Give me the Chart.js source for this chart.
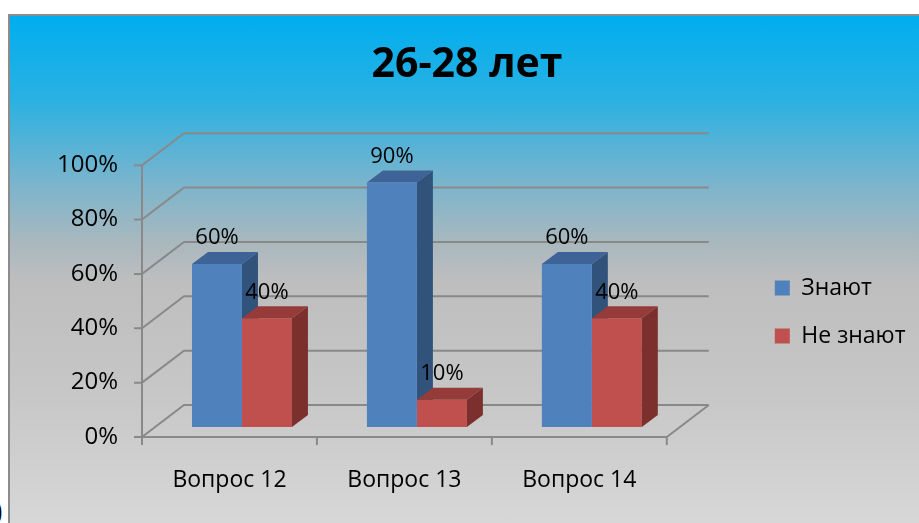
<!DOCTYPE html>
<html>
<head>
<meta charset="utf-8">
<script src="https://cdn.jsdelivr.net/npm/chart.js@4.4.1/dist/chart.umd.min.js"></script>
<style>
  body { margin: 0; background: #fff; }
  #wrap { position: relative; width: 919px; height: 523px; overflow: hidden; }
  #frame {
    position: absolute; left: 8px; top: 14px; width: 1000px; height: 530px;
    border-left: 2px solid #8c8c8c; border-top: 2px solid #8c8c8c;
    background: linear-gradient(to bottom, #00aeef 0%, #2bb1e2 16%, #78b4cd 31%, #aab8be 43%, #bebebe 50%, #c6c6c6 70%, #dadada 100%);
  }
  #paren { position: absolute; left: -8px; top: 494px; font: 30px "DejaVu Serif"; color: #000; }
  canvas { position: absolute; left: 0; top: 0; }
</style>
</head>
<body>
<div id="wrap">
  <div id="frame"></div>
  <span id="paren">)</span>
  <canvas id="chart" width="919" height="523"></canvas>
</div>
<script>
const chartTitle = '26-28 лет';
const categories = ['Вопрос 12', 'Вопрос 13', 'Вопрос 14'];
const seriesNames = ['Знают', 'Не знают'];
const knowValues = [60, 90, 60];
const dontKnowValues = [40, 10, 40];
const yTicks = [0, 20, 40, 60, 80, 100];

const FONT = '"Open Sans", sans-serif';
const DEPTH = {x: 42, y: -32};        // back wall offset
const BAR_SHIFT = {x: 12.5, y: -10};  // bars stand a bit behind the front plane
const BAR_DEPTH = {x: 16, y: -12};
const shades = [
  {front: '#4f81bd', top: '#3e6497', side: '#31527b'},
  {front: '#c0504d', top: '#953c3a', side: '#7b302e'}
];

function drawFaces(chart, i) {
  const ctx = chart.ctx;
  chart.getDatasetMeta(i).data.forEach(bar => {
    const {x, y, base, width} = bar.getProps(['x', 'y', 'base', 'width'], true);
    const l = x - width / 2, r = x + width / 2;
    ctx.fillStyle = shades[i].top;
    ctx.beginPath();
    ctx.moveTo(l, y); ctx.lineTo(r, y);
    ctx.lineTo(r + BAR_DEPTH.x, y + BAR_DEPTH.y); ctx.lineTo(l + BAR_DEPTH.x, y + BAR_DEPTH.y);
    ctx.closePath(); ctx.fill();
    ctx.fillStyle = shades[i].side;
    ctx.beginPath();
    ctx.moveTo(r, y); ctx.lineTo(r + BAR_DEPTH.x, y + BAR_DEPTH.y);
    ctx.lineTo(r + BAR_DEPTH.x, base + BAR_DEPTH.y); ctx.lineTo(r, base);
    ctx.closePath(); ctx.fill();
  });
}

const box3d = {
  id: 'box3d',
  beforeDatasetsDraw(chart) {
    const {ctx, chartArea: a, scales: {y}} = chart;
    ctx.save();
    ctx.strokeStyle = '#898989';
    ctx.lineWidth = 2;
    ctx.beginPath();
    yTicks.forEach(v => {
      const py = y.getPixelForValue(v);
      ctx.moveTo(a.left - 8, py);
      ctx.lineTo(a.left, py);
      ctx.lineTo(a.left + DEPTH.x, py + DEPTH.y);
      ctx.lineTo(a.right + DEPTH.x, py + DEPTH.y);
    });
    ctx.moveTo(a.left, a.top);
    ctx.lineTo(a.left, a.bottom);
    ctx.lineTo(a.right, a.bottom);
    ctx.lineTo(a.right + DEPTH.x, a.bottom + DEPTH.y);
    for (let k = 0; k <= categories.length; k++) {
      const px = a.left + (a.right - a.left) * k / categories.length;
      ctx.moveTo(px, a.bottom);
      ctx.lineTo(px, a.bottom + 8);
    }
    ctx.stroke();
    ctx.restore();

    ctx.save();
    ctx.translate(BAR_SHIFT.x, BAR_SHIFT.y);
    drawFaces(chart, 0);
  },
  afterDatasetsDraw(chart) {
    const ctx = chart.ctx;
    drawFaces(chart, 1);
    ctx.fillStyle = '#000';
    ctx.font = '22px ' + FONT;
    ctx.textAlign = 'center';
    ctx.textBaseline = 'middle';
    chart.data.datasets.forEach((ds, i) => {
      chart.getDatasetMeta(i).data.forEach((bar, j) => {
        const {x, y} = bar.getProps(['x', 'y'], true);
        ctx.fillText(ds.data[j] + '%', x, y - 26);
      });
    });
    ctx.restore();
  }
};

new Chart(document.getElementById('chart'), {
  type: 'bar',
  data: {
    labels: categories,
    datasets: [
      {label: seriesNames[0], data: knowValues, backgroundColor: shades[0].front},
      {label: seriesNames[1], data: dontKnowValues, backgroundColor: shades[1].front}
    ]
  },
  options: {
    responsive: false,
    animation: false,
    devicePixelRatio: 1,
    categoryPercentage: 100 / 175,
    barPercentage: 1,
    layout: {padding: {left: 18.5, right: 3.5, top: 0, bottom: 0}},
    scales: {
      x: {
        grid: {display: false, drawTicks: false},
        border: {display: false},
        ticks: {color: '#000', font: {family: FONT, size: 23}, padding: 30},
        afterFit: s => { s.height = 86; }
      },
      y: {
        min: 0, max: 100,
        afterBuildTicks: s => { s.ticks = yTicks.map(v => ({value: v})); },
        grid: {display: false, drawTicks: false},
        border: {display: false},
        ticks: {color: '#000', font: {family: FONT, size: 24}, padding: 24, callback: v => v + '%'},
        afterFit: s => { s.width = 123.5; }
      },
      // empty room on the right for the depth of the 3D box
      depth: {
        type: 'linear', position: 'right',
        grid: {display: false, drawTicks: false},
        border: {display: false},
        ticks: {display: false},
        afterFit: s => { s.width = 83; }
      }
    },
    plugins: {
      title: {
        display: true, text: chartTitle, color: '#000',
        font: {family: FONT, size: 41, weight: 'bold'},
        padding: {top: 41, bottom: 75}
      },
      legend: {
        position: 'right',
        fullSize: false,
        maxWidth: 400,
        title: {display: true, text: '', font: {size: 22, lineHeight: 1}, padding: 0},
        labels: {color: '#000', font: {family: FONT, size: 23}, boxWidth: 15, boxHeight: 15, padding: 25}
      },
      tooltip: {enabled: false}
    }
  },
  plugins: [box3d]
});
</script>
</body>
</html>
